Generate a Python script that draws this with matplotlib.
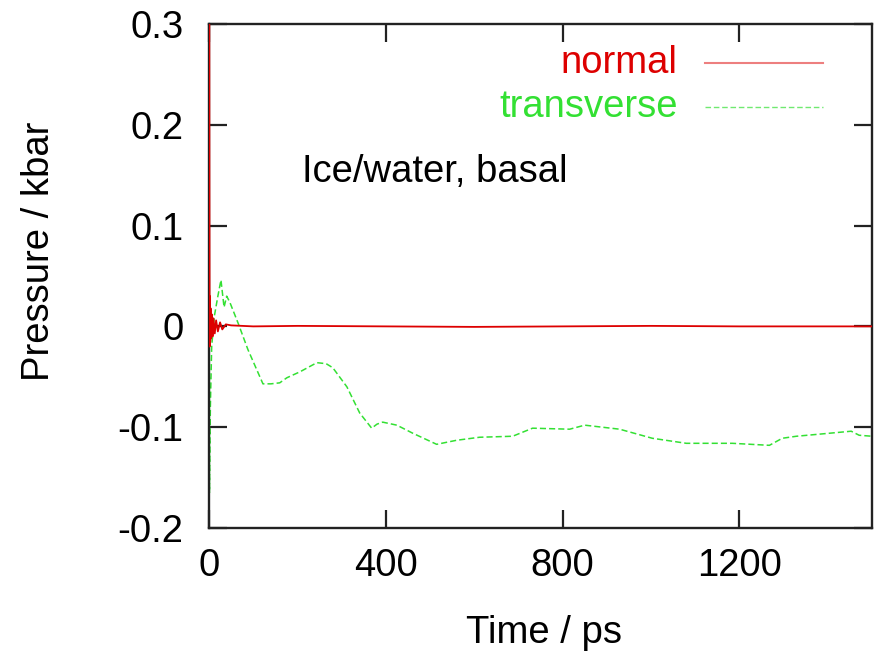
import matplotlib
matplotlib.use("Agg")
import matplotlib.pyplot as plt
from matplotlib.lines import Line2D

# pressure components vs time, ice/water basal interface
t_normal = [0, 0.4, 0.9, 1.4, 2.0, 2.7, 3.5, 4.5, 6, 8, 10, 13, 16, 20, 25, 30,
            38, 50, 100, 200, 400, 600, 800, 1000, 1200, 1400, 1500]
p_normal = [0.0, 0.34, 0.15, -0.02, 0.03, -0.015, 0.018, -0.012, 0.012, -0.01,
            0.008, -0.007, 0.006, -0.005, 0.004, -0.003, 0.002, 0.001, 0.0,
            0.0005, 0.0, -0.0005, 0.0, 0.0005, 0.0, 0.0, 0.0]

t_trans = [0, 1, 3, 6, 12, 20, 27, 34, 40, 47, 66, 88, 110, 122, 140, 160, 176,
           206, 244, 265, 280, 312, 341, 368, 380, 393, 425, 461, 515, 560, 612,
           687, 732, 816, 850, 929, 1003, 1080, 1184, 1268, 1297, 1329, 1404,
           1453, 1471, 1500]
p_trans = [0.15, -0.165, -0.08, -0.02, 0.01, 0.03, 0.046, 0.019, 0.03, 0.024,
           0.003, -0.023, -0.045, -0.057, -0.057, -0.056, -0.051, -0.045, -0.036,
           -0.037, -0.041, -0.06, -0.086, -0.101, -0.097, -0.095, -0.098, -0.106,
           -0.117, -0.113, -0.110, -0.109, -0.101, -0.102, -0.098, -0.102, -0.111,
           -0.116, -0.116, -0.118, -0.111, -0.109, -0.106, -0.104, -0.108, -0.109]

x_ticks = [0, 400, 800, 1200]
y_ticks = [-0.2, -0.1, 0, 0.1, 0.2, 0.3]
y_ticklabels = ["-0.2", "-0.1", "0", "0.1", "0.2", "0.3"]

RED = "#dd0000"
GREEN = "#33e033"

plt.rcParams['font.family'] = ['Liberation Sans', 'DejaVu Sans']
fs = 27.5

fig = plt.figure(figsize=(8.79, 6.54), dpi=100)
ax = fig.add_axes([0.2378, 0.1927, 0.7542, 0.7706])

ax.plot(t_normal, p_normal, color=RED, linewidth=1.3, zorder=3)
ax.plot(t_trans, p_trans, color=GREEN, linewidth=1.1, linestyle=(0, (4, 2)), zorder=2)

ax.set_xlim(0, 1500)
ax.set_ylim(-0.2, 0.3)
ax.set_xticks(x_ticks)
ax.set_xticklabels([str(v) for v in x_ticks])
ax.set_yticks(y_ticks)
ax.set_yticklabels(y_ticklabels)

ax.tick_params(axis='both', direction='in', length=13, width=1.6,
               colors='#222222', labelcolor='black',
               top=True, right=True, labelsize=fs)
ax.tick_params(axis='y', pad=18.5)
ax.tick_params(axis='x', pad=14.5)
for s in ax.spines.values():
    s.set_linewidth(1.7)
    s.set_color('#222222')

ax.set_xlabel("Time / ps", fontsize=fs, va='center')
ax.xaxis.set_label_coords(0.505, -0.208)
ax.set_ylabel("Pressure / kbar", fontsize=fs, va='center')
ax.yaxis.set_label_coords(-0.256, 0.548)

# legend: right-aligned text with the line sample to its right
ax.text(0.707, 0.923, "normal", color=RED, fontsize=fs, ha='right', va='center',
        transform=ax.transAxes)
ax.text(0.707, 0.835, "transverse", color=GREEN, fontsize=fs, ha='right',
        va='center', transform=ax.transAxes)
ax.add_line(Line2D([0.748, 0.926], [0.923, 0.923], color=RED, alpha=0.5,
                   linewidth=1.5, transform=ax.transAxes))
ax.add_line(Line2D([0.748, 0.926], [0.835, 0.835], color=GREEN, alpha=0.7,
                   linewidth=1.0, linestyle=(0, (4, 2)), transform=ax.transAxes))

ax.text(0.140, 0.706, "Ice/water, basal", fontsize=fs, ha='left', va='center',
        transform=ax.transAxes)

fig.savefig("out.png", dpi=100)
